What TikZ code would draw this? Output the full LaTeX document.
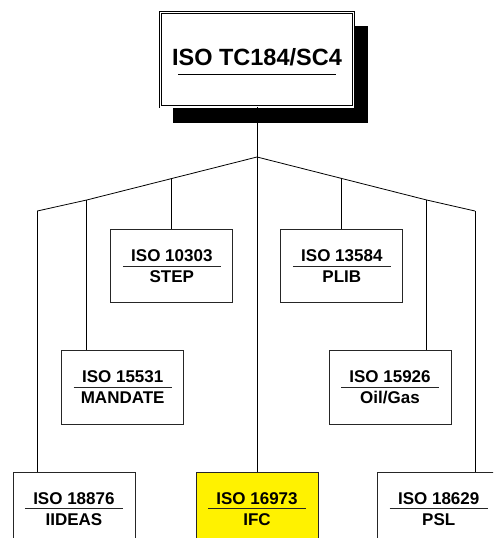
\documentclass[tikz,border=0pt]{standalone}
\usepackage{fontspec}
\setmainfont{Liberation Sans}
\usepackage{tikz}
\usetikzlibrary{calc,shadows}

\tikzset{
  stdbox/.style={draw=black!85, line width=0.8pt, fill=white,
    minimum width=122pt, minimum height=73.4pt, inner sep=0pt,
    align=center, font=\fontsize{17}{21}\selectfont\bfseries,
    path picture={\draw[line width=0.8pt]
      ([xshift=-49pt]path picture bounding box.center) --
      ([xshift=49pt]path picture bounding box.center);}},
  topbox/.style={draw=black, line width=0.8pt, double, double distance=1.5pt,
    fill=white, minimum width=193pt, minimum height=94.3pt, inner sep=0pt,
    text height=16.5pt, text depth=4.3pt,
    font=\fontsize{23.5}{28}\selectfont\bfseries,
    drop shadow={shadow xshift=13.5pt, shadow yshift=-14.5pt, opacity=1,
      fill=black, draw=black, line width=2.5pt}},
  link/.style={line width=0.8pt},
}

\begin{document}
\begin{tikzpicture}[x=1pt, y=-1pt]
\useasboundingbox (0,0) rectangle (493,538);
\clip (0,0) rectangle (493,538);

% Top box
\node[topbox] (tc) at (257,59.65) {ISO TC184/SC4};
\draw[line width=0.8pt] ($(tc.center)+(-78.6,14.4)$) -- ++(157.3,0);

% Branch points
\coordinate (hub) at (257,157);
\coordinate (kinkL) at (86.7,200);
\coordinate (cornerL) at (37.3,211);
\coordinate (kinkR) at (426.7,200);
\coordinate (cornerR) at (475,211);
\coordinate (midL) at ($(hub)!0.5!(kinkL)$);
\coordinate (midR) at ($(hub)!0.5!(kinkR)$);

% Standards
\node[stdbox] (step) at (midL |- 0,266) {ISO 10303\\STEP};
\node[stdbox] (plib) at (midR |- 0,266) {ISO 13584\\PLIB};
\node[stdbox] (mandate) at (122.7,387.35) {ISO 15531\\MANDATE};
\node[stdbox] (oilgas) at (390,387.35) {ISO 15926\\Oil/Gas};
\node[stdbox] (iideas) at (73.9,508.7) {ISO 18876\\IIDEAS};
\node[stdbox, fill=yellow] (ifc) at (257,508.7) {ISO 16973\\IFC};
\node[stdbox] (psl) at (438.7,508.7) {ISO 18629\\PSL};

% Tree
\draw[link] (tc.south) -- (ifc.north);
\draw[link] (cornerL) -- (kinkL) -- (hub) -- (kinkR) -- (cornerR);
\draw[link] (midL) -- (step.north);
\draw[link] (midR) -- (plib.north);
\draw[link] (kinkL) -- (kinkL |- mandate.north);
\draw[link] (kinkR) -- (kinkR |- oilgas.north);
\draw[link] (cornerL) -- (cornerL |- iideas.north);
\draw[link] (cornerR) -- (cornerR |- psl.north);
\end{tikzpicture}
\end{document}
